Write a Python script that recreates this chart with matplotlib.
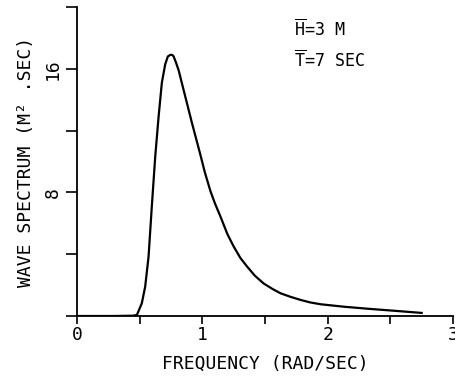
import matplotlib
matplotlib.use("Agg")
import matplotlib.pyplot as plt

freq = [0.0, 0.30, 0.45, 0.478, 0.517, 0.544, 0.571, 0.597, 0.624, 0.651, 0.677, 0.704, 0.725,
        0.744, 0.760, 0.771, 0.790, 0.811, 0.864, 0.917, 0.984, 1.02, 1.064, 1.10, 1.144, 1.20, 1.25,
        1.304, 1.357, 1.42, 1.49, 1.56, 1.624, 1.70, 1.784, 1.86, 1.944, 2.13, 2.32, 2.53, 2.75]
spec = [0.0, 0.0, 0.02, 0.07, 0.82, 1.9, 3.85, 7.1, 10.3, 12.9, 15.1, 16.3, 16.8,
        16.9, 16.9, 16.8, 16.4, 15.9, 14.2, 12.5, 10.45, 9.3, 8.1, 7.3, 6.45, 5.3, 4.5,
        3.75, 3.2, 2.6, 2.1, 1.75, 1.47, 1.25, 1.04, 0.88, 0.76, 0.6, 0.47, 0.34, 0.2]

xticks = [0, 0.5, 1, 1.5, 2, 2.5, 3]
xticklabels = ["0", "", "1", "", "2", "", "3"]
yticks = [0, 4, 8, 12, 16, 20]
yticklabels = ["", "", "8", "", "16", ""]

plt.rcParams['font.family'] = ['DejaVu Sans Mono']
fig = plt.figure(figsize=(4.55, 3.77), dpi=100)
ax = fig.add_axes([77/455, 1 - 316/377, (453-77)/455, (316-7)/377])
ax.plot(freq, spec, color='black', lw=1.6, solid_joinstyle='round')
ax.set_xlim(0, 3)
ax.set_ylim(0, 20)
for s in ['top', 'right']:
    ax.spines[s].set_visible(False)
for s in ['left', 'bottom']:
    ax.spines[s].set_linewidth(1.3)
ax.set_xticks(xticks)
ax.set_xticklabels(xticklabels, fontsize=13)
ax.set_yticks(yticks)
ax.set_yticklabels(yticklabels, fontsize=13, rotation=90, va='center')
ax.tick_params(axis='x', direction='out', length=6, width=1.2, pad=1)
ax.tick_params(axis='y', direction='out', length=8, width=1.2, pad=3)
ax.set_xlabel("FREQUENCY (RAD/SEC)", fontsize=13, labelpad=8)
ax.set_ylabel("WAVE SPECTRUM (M² .SEC)", fontsize=13, labelpad=6)
ax.text(0.578, 0.926, r"$\overline{\mathtt{H}}$=3 M", transform=ax.transAxes,
        fontsize=12, va='center')
ax.text(0.578, 0.828, r"$\overline{\mathtt{T}}$=7 SEC", transform=ax.transAxes,
        fontsize=12, va='center')
fig.savefig("out.png", dpi=100)
